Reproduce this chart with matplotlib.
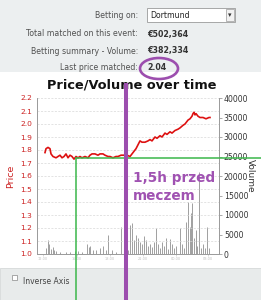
import matplotlib
matplotlib.use("Agg")
import matplotlib.pyplot as plt
from matplotlib.patches import Rectangle, Ellipse
from matplotlib.lines import Line2D

# header info
header_labels = ["Betting on:", "Total matched on this event:",
                 "Betting summary - Volume:", "Last price matched:"]
header_values = ["Dortmund", "€502,364", "€382,334", "2.04"]

# price series (time step, price)
price_t = [8, 9, 11, 13, 14, 16, 19, 21, 23, 25, 27, 29, 31, 33, 35, 37, 39, 41,
           43, 45, 48, 51, 53, 55, 58, 61, 63, 66, 68, 71, 73, 76, 79, 81, 84, 87,
           90, 93, 95, 97, 99, 101, 103, 105, 108, 111, 113, 115, 118, 120, 123,
           125, 128, 130, 133, 135, 138, 141, 143, 146, 148, 151, 153, 155, 156,
           157, 158, 159, 161, 163, 166, 169, 172, 173]
price_v = [1.78, 1.81, 1.82, 1.81, 1.77, 1.75, 1.74, 1.75, 1.76, 1.74, 1.75, 1.77,
           1.74, 1.76, 1.75, 1.73, 1.75, 1.74, 1.75, 1.74, 1.75, 1.74, 1.76, 1.77,
           1.77, 1.76, 1.77, 1.77, 1.76, 1.75, 1.75, 1.74, 1.75, 1.75, 1.76, 1.76,
           1.76, 1.75, 1.77, 1.79, 1.81, 1.84, 1.87, 1.86, 1.86, 1.87, 1.88, 1.87,
           1.90, 1.89, 1.91, 1.90, 1.93, 1.92, 1.94, 1.93, 1.95, 1.96, 1.97, 1.99,
           2.00, 2.03, 2.04, 2.06, 2.08, 2.09, 2.07, 2.08, 2.06, 2.05, 2.05, 2.04,
           2.05, 2.05]

# volume bars (time step, volume)
vol_t = [9, 11, 12, 14, 16, 17, 19, 23, 29, 33, 38, 41, 45, 50, 52, 53, 56, 59,
         63, 66, 69, 71, 75, 79, 84, 87, 91, 93, 95, 97, 99, 101, 103, 105, 107,
         109, 111, 113, 115, 117, 119, 121, 123, 125, 127, 129, 131, 133, 135,
         137, 139, 143, 145, 147, 149, 151, 153, 154, 155, 157, 159, 160, 162,
         164, 166, 168, 170, 172]
vol_v = [1500, 3600, 2500, 1200, 1800, 1000, 800, 500, 600, 400, 700, 800, 500,
         2500, 1800, 2000, 1000, 900, 1600, 2000, 900, 4800, 1000, 600, 6900,
         1500, 1000, 7400, 8000, 3500, 5000, 4000, 3000, 2500, 4500, 3500, 2000,
         2500, 1800, 3000, 6700, 2500, 1500, 3000, 2000, 4000, 1200, 3800, 2500,
         1500, 2000, 6700, 2500, 1500, 8300, 13400, 7000, 10500, 13100, 4000,
         6200, 2000, 21000, 1500, 2500, 1500, 7000, 1500]

price_ticks = [1.0, 1.1, 1.2, 1.3, 1.4, 1.5, 1.6, 1.7, 1.8, 1.9, 2.0, 2.1, 2.2]
vol_ticks = [0, 5000, 10000, 15000, 20000, 25000, 30000, 35000, 40000]
time_ticks = [6, 40, 73, 106, 139, 171]
time_labels = ["12:00", "15:00", "18:00", "21:00", "00:00", "03:00"]

W, H = 261, 300
fig = plt.figure(figsize=(W / 100, H / 100), dpi=100)
fig.patch.set_facecolor("white")

def fx(px):
    return px / W

def fy(py):
    return 1 - py / H

# grey panels top and bottom
fig.patches.append(Rectangle((0, fy(72)), 1, 1 - fy(72), transform=fig.transFigure,
                             facecolor="#eceff0", edgecolor="none", zorder=0))
fig.patches.append(Rectangle((0, 0), 1, fy(268), transform=fig.transFigure,
                             facecolor="#e8ebeb", edgecolor="#d6d9d9", lw=0.6, zorder=0))

rows_y = [15, 34, 51, 67]
for lab, val, y in zip(header_labels, header_values, rows_y):
    fig.text(fx(138), fy(y), lab, ha="right", va="center", fontsize=5.6, color="#505050")
    if lab != "Betting on:":
        fig.text(fx(147), fy(y), val, ha="left", va="center", fontsize=5.7,
                 color="#333333", fontweight="bold")

# dropdown box
fig.patches.append(Rectangle((fx(147), fy(22)), fx(88), 14 / H, transform=fig.transFigure,
                             facecolor="white", edgecolor="#9a9a9a", lw=0.6))
fig.patches.append(Rectangle((fx(226), fy(21)), fx(8), 12 / H, transform=fig.transFigure,
                             facecolor="#f2f2f2", edgecolor="#9a9a9a", lw=0.5))
fig.text(fx(150), fy(15), header_values[0], ha="left", va="center", fontsize=5.6, color="#222222")
fig.text(fx(230), fy(15.5), "▾", ha="center", va="center", fontsize=5, color="#333333")

# main chart
ax = fig.add_axes([fx(37), fy(254), fx(219 - 37), (254 - 98) / H])
ax.set_facecolor("white")
ax2 = ax.twinx()

ax2.bar(vol_t, vol_v, width=0.8, color="#b4b4b4", edgecolor="#7a7a7a", linewidth=0.5, zorder=2)
ax2.set_ylim(0, 40000)
ax2.set_yticks(vol_ticks)
ax2.set_yticklabels([str(v) for v in vol_ticks], fontsize=5.6, color="#333333")
ax2.tick_params(axis="y", length=2, width=0.5, color="#888888", pad=1.5)
ax2.set_ylabel("Volume", rotation=270, fontsize=6.5, color="#333333", labelpad=5)

ax.set_zorder(ax2.get_zorder() + 1)
ax.patch.set_visible(False)
ax.plot(price_t, price_v, color="#dd1111", lw=1.2, zorder=3)
ax.set_ylim(1.0, 2.2)
ax.set_xlim(0, 182)
ax.set_yticks(price_ticks)
ax.set_yticklabels(["%.1f" % v for v in price_ticks], fontsize=5.4, color="#cc2222")
ax.tick_params(axis="y", length=0, pad=3.5)
ax.set_ylabel("Price", fontsize=6.8, color="#cc2222", labelpad=4)
ax.set_xticks(time_ticks)
ax.set_xticklabels(time_labels, fontsize=2.5, color="#c0c0c0")
ax.tick_params(axis="x", length=1.5, width=0.4, color="#bbbbbb", pad=1)
ax.yaxis.grid(True, color="#d8d8d8", linestyle=(0, (3, 2)), lw=0.5)
ax.set_axisbelow(True)
for a in (ax, ax2):
    a.spines["top"].set_visible(False)
    for s in ("left", "right", "bottom"):
        a.spines[s].set_color("#9a9a9a")
        a.spines[s].set_linewidth(0.6)
ax2.set_xlim(0, 182)

fig.text(fx(132), fy(85), "Price/Volume over time", ha="center", va="center",
         fontsize=9.3, fontweight="bold", color="#111111")

# annotations on top
green = "#3bb64a"
purple = "#9c4eae"
fig.add_artist(Line2D([fx(76), 1.0], [fy(157.5), fy(157.5)], transform=fig.transFigure,
                      color=green, lw=1.1, zorder=10))
fig.add_artist(Line2D([fx(76), fx(76)], [fy(157.5), 0], transform=fig.transFigure,
                      color=green, lw=1.1, zorder=10))
fig.add_artist(Line2D([fx(125.5), fx(125.5)], [fy(85), 0], transform=fig.transFigure,
                      color=purple, lw=2.9, zorder=11))
fig.text(fx(133), fy(187), "1,5h przed\nmeczem", ha="left", va="center", fontsize=9.8,
         color="#a052b2", fontweight="bold", linespacing=1.45, zorder=12)
fig.add_artist(Ellipse((fx(159), fy(68.5)), 38 / W, 21 / H, transform=fig.transFigure,
                       facecolor="none", edgecolor=purple, lw=1.9, zorder=12))

# inverse axis checkbox
fig.patches.append(Rectangle((fx(12), fy(280)), 5 / W, 5 / H, transform=fig.transFigure,
                             facecolor="white", edgecolor="#888888", lw=0.5, zorder=5))
fig.text(fx(23), fy(282), "Inverse Axis", ha="left", va="center", fontsize=5.5, color="#444444")

fig.savefig("out.png", dpi=100)
